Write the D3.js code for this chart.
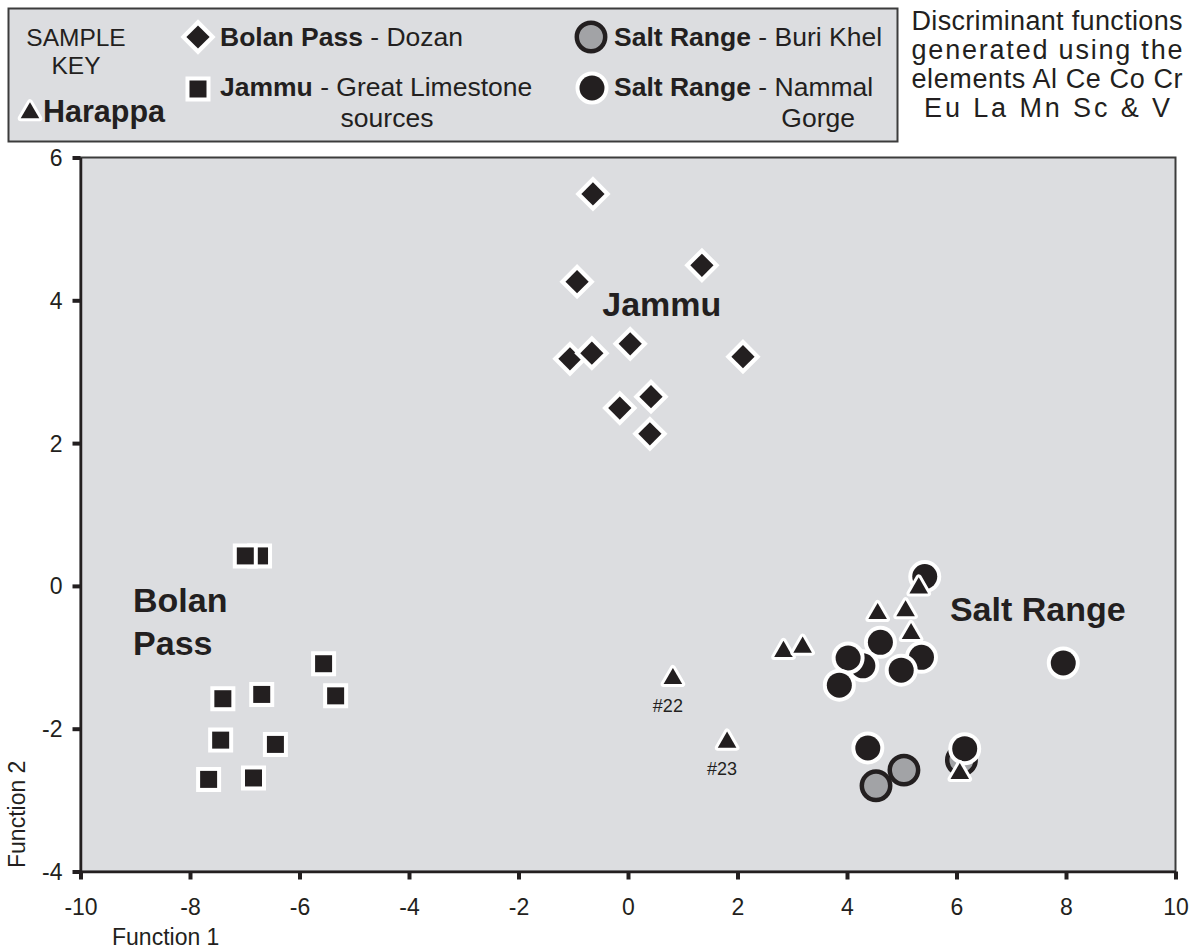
<!DOCTYPE html>
<html>
<head>
<meta charset="utf-8">
<script src="https://cdn.jsdelivr.net/npm/d3@7"></script>
<style>
  html, body { margin: 0; padding: 0; background: #ffffff; }
  svg { display: block; font-family: "Liberation Sans", Arial, Helvetica, sans-serif; }
</style>
</head>
<body>
<svg id="chart" width="1195" height="950"></svg>
<script>
// Discriminant function scores (Function 1, Function 2) per sample group
const dozanF1 = [-0.64, -0.93, 1.35, -1.06, -0.66, 0.04, 2.10, -0.15, 0.42, 0.40];
const dozanF2 = [5.49, 4.26, 4.49, 3.18, 3.26, 3.39, 3.21, 2.49, 2.65, 2.13];

const limestoneF1 = [-6.73, -6.99, -5.56, -7.40, -6.69, -5.34, -7.44, -6.44, -7.66, -6.84];
const limestoneF2 = [0.42, 0.42, -1.09, -1.58, -1.52, -1.54, -2.16, -2.22, -2.71, -2.69];

const buriKhelF1 = [6.09, 5.04, 4.53];
const buriKhelF2 = [-2.44, -2.58, -2.80];

const nammalF1 = [5.42, 4.29, 5.36, 4.02, 4.61, 3.86, 4.99, 7.95, 4.38, 6.15];
const nammalF2 = [0.13, -1.12, -1.00, -1.01, -0.79, -1.39, -1.18, -1.08, -2.27, -2.28];

const harappaF1 = [0.82, 1.81, 2.84, 3.19, 4.56, 5.07, 5.17, 5.31, 6.06];
const harappaF2 = [-1.30, -2.19, -0.92, -0.86, -0.39, -0.35, -0.67, -0.03, -2.63];
const harappaIds = ["#22", "#23", "", "", "", "", "", "", ""];

const xTicks = [-10, -8, -6, -4, -2, 0, 2, 4, 6, 8, 10];
const yTicks = [-4, -2, 0, 2, 4, 6];
const xTitle = "Function 1";
const yTitle = "Function 2";

const groupLabels = [
  { lines: ["Jammu"], f1: -0.47, f2: 3.78 },
  { lines: ["Bolan", "Pass"], f1: -9.04, f2: -0.36 },
  { lines: ["Salt Range"], f1: 5.88, f2: -0.49 }
];

const noteLines = ["Discriminant functions", "generated using the", "elements Al Ce Co Cr", "Eu  La  Mn  Sc  &  V"];

const INK = "#231f20";
const PANEL = "#dcdde0";
const GREY = "#a2a3a6";

const svg = d3.select("#chart");

const x = d3.scaleLinear().domain([-10, 10]).range([80.5, 1175.5]);
const y = d3.scaleLinear().domain([-4, 6]).range([871.5, 157.5]);

// plot panel
svg.append("rect")
  .attr("x", x(-10)).attr("y", y(6))
  .attr("width", x(10) - x(-10)).attr("height", y(-4) - y(6))
  .attr("fill", PANEL).attr("stroke", "#3c3c3c").attr("stroke-width", 2);

// axes (plain hyphen for negative tick labels)
const fmt = d => String(d);
const xAxis = svg.append("g")
  .attr("transform", `translate(0,${y(-4)})`)
  .call(d3.axisBottom(x).tickValues(xTicks).tickSize(8).tickSizeOuter(0).tickFormat(fmt));
const yAxis = svg.append("g")
  .attr("transform", `translate(${x(-10)},0)`)
  .call(d3.axisLeft(y).tickValues(yTicks).tickSize(8).tickSizeOuter(0).tickFormat(fmt));

[xAxis, yAxis].forEach(g => {
  g.select(".domain").attr("stroke", INK).attr("stroke-width", 2.5);
  g.selectAll(".tick line").attr("stroke", INK).attr("stroke-width", 4);
  g.selectAll(".tick text")
    .attr("fill", INK)
    .style("font-family", "'Liberation Sans', Arial, sans-serif")
    .style("font-size", "23px");
});
xAxis.selectAll(".tick text").attr("y", 27).attr("dy", "0.71em");
yAxis.selectAll(".tick text").attr("x", -18).attr("dy", "0.35em");

svg.append("text")
  .attr("x", 112).attr("y", 945)
  .attr("fill", INK).style("font-size", "23px")
  .text(xTitle);
svg.append("text")
  .attr("transform", "translate(25,868) rotate(-90)")
  .attr("fill", INK).style("font-size", "23px")
  .text(yTitle);

// marker drawing helpers
const squarePath = d3.symbol().type(d3.symbolSquare).size(289)();
const diamondPath = d3.symbol().type(d3.symbolSquare).size(270)();
const trianglePath = d3.symbol().type(d3.symbolTriangle).size(150)();

function drawSquare(g, px, py) {
  g.append("path").attr("d", squarePath)
    .attr("transform", `translate(${px},${py})`)
    .attr("fill", INK).attr("stroke", "#ffffff").attr("stroke-width", 8)
    .attr("stroke-linejoin", "miter").attr("paint-order", "stroke");
}
function drawDiamond(g, px, py) {
  g.append("path").attr("d", diamondPath)
    .attr("transform", `translate(${px},${py}) rotate(45)`)
    .attr("fill", INK).attr("stroke", "#ffffff").attr("stroke-width", 8.5)
    .attr("stroke-linejoin", "miter").attr("paint-order", "stroke");
}
function drawTriangle(g, px, py) {
  g.append("path").attr("d", trianglePath)
    .attr("transform", `translate(${px},${py})`)
    .attr("fill", INK).attr("stroke", "#ffffff").attr("stroke-width", 6)
    .attr("stroke-linejoin", "round").attr("paint-order", "stroke");
}
function drawDot(g, px, py) {
  g.append("circle").attr("cx", px).attr("cy", py).attr("r", 12.5)
    .attr("fill", INK).attr("stroke", "#ffffff").attr("stroke-width", 8)
    .attr("paint-order", "stroke");
}
function drawGreyDot(g, px, py) {
  g.append("circle").attr("cx", px).attr("cy", py).attr("r", 14.2)
    .attr("fill", GREY).attr("stroke", INK).attr("stroke-width", 4.5);
}

const marks = svg.append("g");
dozanF1.forEach((v, i) => drawDiamond(marks, x(v), y(dozanF2[i])));
limestoneF1.forEach((v, i) => drawSquare(marks, x(v), y(limestoneF2[i])));
buriKhelF1.forEach((v, i) => drawGreyDot(marks, x(v), y(buriKhelF2[i])));
nammalF1.forEach((v, i) => drawDot(marks, x(v), y(nammalF2[i])));
harappaF1.forEach((v, i) => drawTriangle(marks, x(v), y(harappaF2[i])));

// sample id labels under Harappa points
harappaF1.forEach((v, i) => {
  if (!harappaIds[i]) return;
  marks.append("text")
    .attr("x", x(v) - 5).attr("y", y(harappaF2[i]) + 33)
    .attr("text-anchor", "middle")
    .attr("fill", INK).style("font-size", "18px")
    .text(harappaIds[i]);
});

// group labels
groupLabels.forEach(lbl => {
  lbl.lines.forEach((line, j) => {
    svg.append("text")
      .attr("x", x(lbl.f1)).attr("y", y(lbl.f2) + j * 43)
      .attr("fill", INK).style("font-size", "34px").style("font-weight", "bold")
      .text(line);
  });
});

// legend
const legend = svg.append("g");
legend.append("rect")
  .attr("x", 8.5).attr("y", 8.5).attr("width", 889).attr("height", 133)
  .attr("fill", PANEL).attr("stroke", "#3c3c3c").attr("stroke-width", 2);

legend.append("text").attr("x", 76).attr("y", 46).attr("text-anchor", "middle")
  .attr("fill", INK).style("font-size", "24.5px").text("SAMPLE");
legend.append("text").attr("x", 76).attr("y", 74).attr("text-anchor", "middle")
  .attr("fill", INK).style("font-size", "24.5px").text("KEY");

drawTriangle(legend, 30, 113);
legend.append("text").attr("x", 43).attr("y", 122)
  .attr("fill", INK).style("font-size", "30.5px").style("font-weight", "bold").text("Harappa");

function legendEntry(px, py, bold, rest) {
  const t = legend.append("text").attr("x", px).attr("y", py)
    .attr("fill", INK).style("font-size", "26.5px");
  t.append("tspan").style("font-weight", "bold").text(bold);
  t.append("tspan").text(rest);
}

drawDiamond(legend, 198, 37);
legendEntry(220, 46, "Bolan Pass", " - Dozan");
drawSquare(legend, 198, 89);
legendEntry(220, 96, "Jammu", " - Great Limestone");
legend.append("text").attr("x", 387).attr("y", 127).attr("text-anchor", "middle")
  .attr("fill", INK).style("font-size", "26.5px").text("sources");

drawGreyDot(legend, 591, 37);
legendEntry(614, 46, "Salt Range", " - Buri Khel");
drawDot(legend, 592, 88);
legendEntry(614, 96, "Salt Range", " - Nammal");
legend.append("text").attr("x", 855).attr("y", 127).attr("text-anchor", "end")
  .attr("fill", INK).style("font-size", "26.5px").text("Gorge");

// note on the discriminant functions, justified block
noteLines.forEach((line, i) => {
  const last = i === noteLines.length - 1;
  svg.append("text")
    .attr("x", 1047).attr("y", 30 + i * 29)
    .attr("text-anchor", "middle")
    .attr("fill", INK).style("font-size", "27px")
    .attr("textLength", last ? 246 : 271)
    .attr("lengthAdjust", "spacing")
    .text(line);
});
</script>
</body>
</html>
